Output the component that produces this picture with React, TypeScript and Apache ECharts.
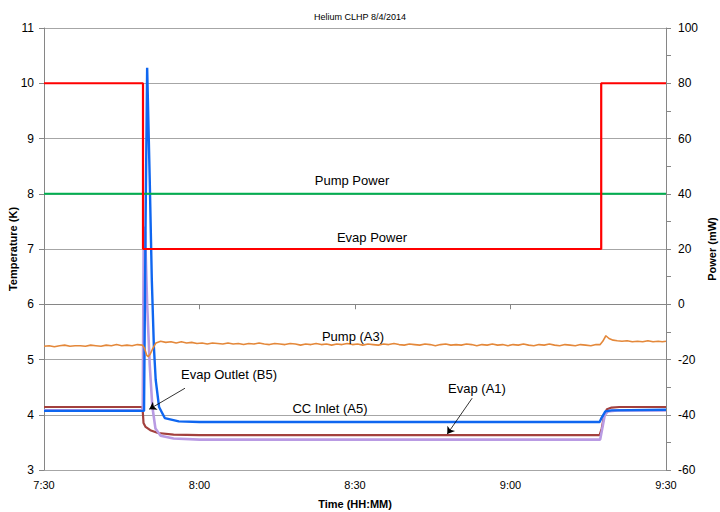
import React, { useEffect, useRef } from "react";
import * as echarts from "echarts";

// time in minutes since midnight (7:30 = 450)
const xTicks = [450, 480, 510, 540, 570];

const evapPower: [number, number][] = [
  [450, 80], [469.1, 80], [469.1, 20], [557.5, 20], [557.5, 80], [570, 80],
];
const pumpPower: [number, number][] = [
  [450, 40], [570, 40],
];

const ccInletA5: [number, number][] = [
  [450, 4.07], [469.3, 4.07], [469.6, 7.5], [469.9, 10.28], [470.4, 8.25],
  [470.8, 6.44], [471.2, 5.23], [471.55, 4.63], [472.2, 4.14], [473.3, 3.94],
  [476, 3.88], [480, 3.87], [557.2, 3.87], [557.6, 3.95], [558.3, 4.06],
  [559.5, 4.08], [570, 4.09],
];

const evapA1: [number, number][] = [
  [450, 4.14], [469.0, 4.14], [469.2, 3.85], [469.6, 3.78], [470.5, 3.72],
  [472, 3.67], [475, 3.64], [480, 3.63], [557.2, 3.63], [557.6, 3.75],
  [558.1, 4.0], [558.6, 4.1], [559.5, 4.13], [561, 4.14], [570, 4.14],
];

const evapOutletB5: [number, number][] = [
  [450, 4.08], [469.05, 4.08], [469.25, 7.4], [469.5, 7.3], [469.9, 6.0],
  [470.4, 4.9], [470.9, 4.15], [471.5, 3.75], [472.5, 3.62], [475, 3.57],
  [480, 3.55], [557.3, 3.55], [557.6, 3.7], [558.2, 4.0], [558.8, 4.06],
  [561, 4.08], [570, 4.08],
];

const pumpA3: [number, number][] = [
  [450, 5.24], [451, 5.25], [452, 5.23], [453, 5.25], [454, 5.26], [455, 5.24],
  [456, 5.25], [457, 5.25], [458, 5.24], [459, 5.26], [460, 5.25], [461, 5.24],
  [462, 5.26], [463, 5.25], [464, 5.27], [465, 5.25], [466, 5.26], [467, 5.25],
  [468, 5.27], [469, 5.26], [469.4, 5.2], [469.8, 5.08], [470.1, 5.05],
  [470.5, 5.1], [471, 5.2], [471.6, 5.3], [472.5, 5.33], [473.5, 5.31],
  [474.5, 5.32], [475.5, 5.3], [476.5, 5.32], [477.5, 5.3], [478.5, 5.31],
  [479.5, 5.29], [480.5, 5.3], [481.5, 5.28], [482.5, 5.3], [483.5, 5.29],
  [484.5, 5.28], [485.5, 5.3], [486.5, 5.28], [487.5, 5.29], [488.5, 5.27],
  [489.5, 5.29], [490.5, 5.28], [491.5, 5.3], [492.5, 5.28], [493.5, 5.27],
  [494.5, 5.29], [495.5, 5.28], [496.5, 5.27], [497.5, 5.29], [498.5, 5.28],
  [499.5, 5.26], [500.5, 5.28], [501.5, 5.27], [502.5, 5.29], [503.5, 5.27],
  [504.5, 5.28], [505.5, 5.26], [506.5, 5.28], [507.5, 5.27], [508.5, 5.29],
  [509.5, 5.27], [510.5, 5.28], [511.5, 5.26], [512.5, 5.28], [513.5, 5.27],
  [514.5, 5.26], [515.5, 5.28], [516.5, 5.27], [517.5, 5.29], [518.5, 5.27],
  [519.5, 5.26], [520.5, 5.28], [521.5, 5.27], [522.5, 5.26], [523.5, 5.28],
  [524.5, 5.27], [525.5, 5.25], [526.5, 5.27], [527.5, 5.28], [528.5, 5.26],
  [529.5, 5.27], [530.5, 5.26], [531.5, 5.28], [532.5, 5.27], [533.5, 5.25],
  [534.5, 5.27], [535.5, 5.26], [536.5, 5.28], [537.5, 5.26], [538.5, 5.27],
  [539.5, 5.25], [540.5, 5.27], [541.5, 5.26], [542.5, 5.28], [543.5, 5.26],
  [544.5, 5.25], [545.5, 5.27], [546.5, 5.26], [547.5, 5.28], [548.5, 5.26],
  [549.5, 5.25], [550.5, 5.27], [551.5, 5.26], [552.5, 5.25], [553.5, 5.27],
  [554.5, 5.26], [555.5, 5.25], [556.5, 5.27], [557.3, 5.27], [557.8, 5.33],
  [558.4, 5.43], [559, 5.38], [559.8, 5.35], [560.6, 5.34], [561.5, 5.33],
  [562.5, 5.34], [563.5, 5.32], [564.5, 5.33], [565.5, 5.32], [566.5, 5.34],
  [567.5, 5.32], [568.5, 5.33], [569.3, 5.32], [570, 5.33],
];

// arrows: [from, to] in data coordinates (time, K)
const outletArrow: [number, number][] = [[477.2, 4.48], [470.3, 4.1]];
const evapArrow: [number, number][] = [[532.6, 4.3], [527.8, 3.65]];

const FONT = "Liberation Sans";

function fmtTime(v: number): string {
  const h = Math.floor(v / 60);
  const m = Math.round(v - h * 60);
  return h + ":" + (m < 10 ? "0" + m : String(m));
}

export default function App() {
  const ref = useRef<HTMLDivElement>(null);
  useEffect(() => {
    if (!ref.current) return;
    const chart = echarts.init(ref.current, undefined, { renderer: "svg" });
    const annText = (text: string, x: number, y: number, align: string = "center") => ({
      type: "text",
      x,
      y,
      style: {
        text,
        fontFamily: FONT,
        fontSize: 13,
        fill: "#000",
        align,
        verticalAlign: "middle",
      },
      z: 100,
    });
    const arrowLine = (pts: [number, number][]) => [
      { coord: pts[0], symbol: "none" },
      { coord: pts[1], symbol: "arrow" },
    ];
    chart.setOption({
      animation: false,
      backgroundColor: "#fff",
      textStyle: { fontFamily: FONT },
      title: {
        text: "Helium CLHP 8/4/2014",
        left: "center",
        top: 7,
        textStyle: { fontFamily: FONT, fontSize: 9, fontWeight: "normal", color: "#000" },
      },
      grid: {
        left: 44,
        right: 54,
        top: 28,
        bottom: 42,
        containLabel: false,
        outerBoundsMode: "none",
      },
      xAxis: {
        type: "value",
        min: xTicks[0],
        max: xTicks[xTicks.length - 1],
        interval: 30,
        name: "Time (HH:MM)",
        nameLocation: "middle",
        nameGap: 28,
        nameMoveOverlap: false,
        nameTextStyle: { fontFamily: FONT, fontSize: 11, fontWeight: "bold", color: "#000" },
        axisLine: { lineStyle: { color: "#868686" } },
        axisTick: { length: 5, lineStyle: { color: "#868686" } },
        splitLine: { show: false },
        axisLabel: {
          formatter: (v: number) => fmtTime(v),
          fontFamily: FONT,
          fontSize: 11,
          color: "#000",
          margin: 9,
        },
      },
      yAxis: [
        {
          type: "value",
          min: 3,
          max: 11,
          interval: 1,
          position: "left",
          name: "Temperature (K)",
          nameLocation: "middle",
          nameRotate: 90,
          nameGap: 26,
          nameMoveOverlap: false,
          nameTextStyle: { fontFamily: FONT, fontSize: 11, fontWeight: "bold", color: "#000" },
          axisLine: { show: true, lineStyle: { color: "#868686" } },
          axisTick: { show: true, length: 5, lineStyle: { color: "#868686" } },
          splitLine: { show: true, lineStyle: { color: "#a6a6a6", width: 1 } },
          axisLabel: { fontFamily: FONT, fontSize: 12, color: "#000", margin: 10 },
        },
        {
          type: "value",
          min: -60,
          max: 100,
          interval: 10,
          position: "right",
          name: "Power (mW)",
          nameLocation: "middle",
          nameRotate: 90,
          nameGap: 40,
          nameMoveOverlap: false,
          nameTextStyle: { fontFamily: FONT, fontSize: 11, fontWeight: "bold", color: "#000" },
          axisLine: { show: true, lineStyle: { color: "#868686" } },
          axisTick: { show: true, length: 5, lineStyle: { color: "#868686" } },
          splitLine: { show: false },
          axisLabel: {
            formatter: (v: number) => (Math.round(v) % 20 === 0 ? String(v) : ""),
            fontFamily: FONT,
            fontSize: 12,
            color: "#000",
            margin: 12,
          },
        },
      ],
      series: [
        {
          name: "Evap (A1)",
          type: "line",
          yAxisIndex: 0,
          data: evapA1,
          showSymbol: false,
          lineStyle: { color: "#a3403d", width: 2.2 },
          z: 2,
          markLine: {
            silent: true,
            symbolSize: 7,
            label: { show: false },
            lineStyle: { color: "#000", width: 0.8, type: "solid" },
            data: [arrowLine(outletArrow), arrowLine(evapArrow)],
          },
        },
        {
          name: "Evap Outlet (B5)",
          type: "line",
          yAxisIndex: 0,
          data: evapOutletB5,
          showSymbol: false,
          lineStyle: { color: "#b99be3", width: 2.6 },
          z: 3,
        },
        {
          name: "CC Inlet (A5)",
          type: "line",
          yAxisIndex: 0,
          data: ccInletA5,
          showSymbol: false,
          lineStyle: { color: "#0f66f0", width: 2.4 },
          z: 4,
        },
        {
          name: "Pump (A3)",
          type: "line",
          yAxisIndex: 0,
          data: pumpA3,
          showSymbol: false,
          lineStyle: { color: "#e4883a", width: 1.6 },
          z: 5,
        },
        {
          name: "Pump Power",
          type: "line",
          yAxisIndex: 1,
          data: pumpPower,
          showSymbol: false,
          lineStyle: { color: "#00b050", width: 2.2 },
          z: 6,
        },
        {
          name: "Evap Power",
          type: "line",
          yAxisIndex: 1,
          data: evapPower,
          showSymbol: false,
          lineStyle: { color: "#ff0000", width: 2.2 },
          z: 7,
        },
      ],
      graphic: [
        annText("Pump Power", 352, 180),
        annText("Evap Power", 372, 237),
        annText("Pump (A3)", 353, 336),
        annText("Evap Outlet (B5)", 181, 374, "left"),
        annText("CC Inlet (A5)", 330, 408),
        annText("Evap (A1)", 477, 388),
      ],
    });
    return () => chart.dispose();
  }, []);
  return (
    <div
      ref={ref}
      style={{ position: "fixed", left: 0, top: 0, width: 720, height: 512 }}
    />
  );
}
